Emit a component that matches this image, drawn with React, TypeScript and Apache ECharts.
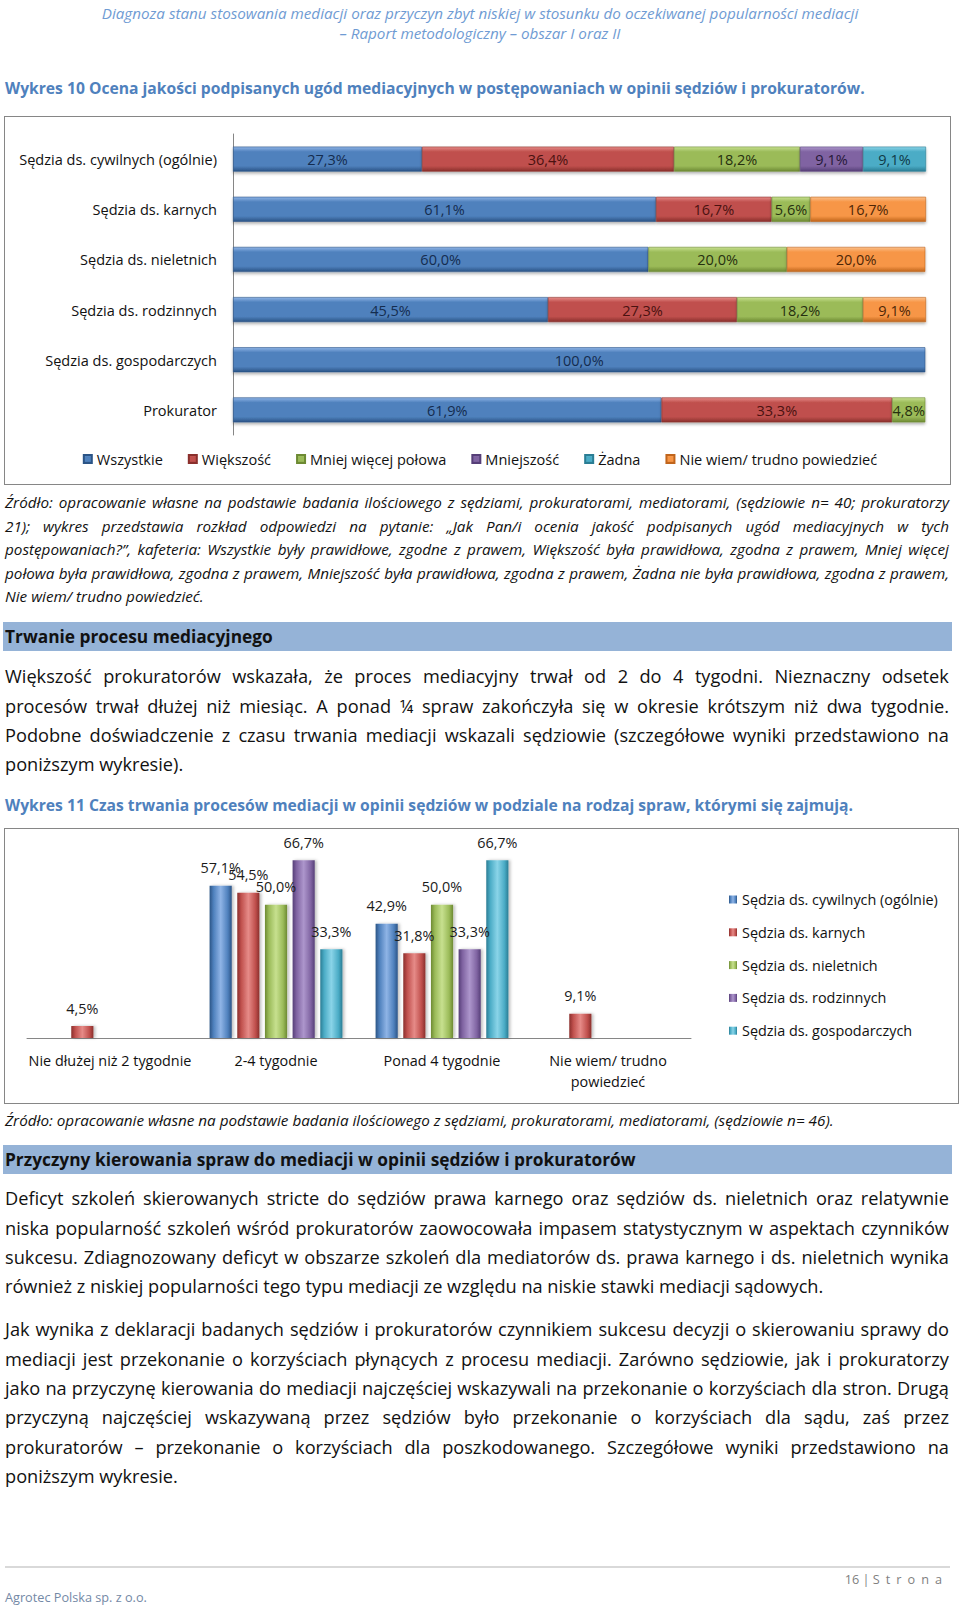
import React, { useEffect, useRef } from "react";
import * as echarts from "echarts";

// ---------- Chart 1 data (Wykres 10) ----------
const cats1 = [
  "Sędzia ds. cywilnych (ogólnie)",
  "Sędzia ds. karnych",
  "Sędzia ds. nieletnich",
  "Sędzia ds. rodzinnych",
  "Sędzia ds. gospodarczych",
  "Prokurator",
];
const answers1 = ["Wszystkie", "Większość", "Mniej więcej połowa", "Mniejszość", "Żadna", "Nie wiem/ trudno powiedzieć"];
const wszystkie = [27.3, 61.1, 60.0, 45.5, 100.0, 61.9];
const wiekszosc = [36.4, 16.7, 0, 27.3, 0, 33.3];
const polowa = [18.2, 5.6, 20.0, 18.2, 0, 4.8];
const mniejszosc = [9.1, 0, 0, 0, 0, 0];
const zadna = [9.1, 0, 0, 0, 0, 0];
const nieWiem = [0, 16.7, 20.0, 9.1, 0, 0];

// ---------- Chart 2 data (Wykres 11) ----------
const cats2 = ["Nie dłużej niż 2 tygodnie", "2-4 tygodnie", "Ponad 4 tygodnie", "Nie wiem/ trudno powiedzieć"];
const judges2 = [
  "Sędzia ds. cywilnych (ogólnie)",
  "Sędzia ds. karnych",
  "Sędzia ds. nieletnich",
  "Sędzia ds. rodzinnych",
  "Sędzia ds. gospodarczych",
];
const cywilne2 = [0, 57.1, 42.9, 0];
const karne2 = [4.5, 54.5, 31.8, 9.1];
const nieletni2 = [0, 50.0, 50.0, 0];
const rodzinne2 = [0, 66.7, 33.3, 0];
const gospodarcze2 = [0, 33.3, 66.7, 0];

// ---------- Text ----------
const headerLines = [
  "Diagnoza stanu stosowania mediacji oraz przyczyn zbyt niskiej w stosunku do oczekiwanej popularności mediacji",
  "– Raport metodologiczny – obszar I oraz II",
];
const title1 = "Wykres 10 Ocena jakości podpisanych ugód mediacyjnych w postępowaniach w opinii sędziów i prokuratorów.";
const source1 = [
  "Źródło: opracowanie własne na podstawie badania ilościowego z sędziami, prokuratorami, mediatorami, (sędziowie n= 40; prokuratorzy",
  "21); wykres przedstawia rozkład odpowiedzi na pytanie: „Jak Pan/i ocenia jakość podpisanych ugód mediacyjnych w tych",
  "postępowaniach?”, kafeteria: Wszystkie były prawidłowe, zgodne z prawem, Większość była prawidłowa, zgodna z prawem, Mniej więcej",
  "połowa była prawidłowa, zgodna z prawem, Mniejszość była prawidłowa, zgodna z prawem, Żadna nie była prawidłowa, zgodna z prawem,",
  "Nie wiem/ trudno powiedzieć.",
];
const section1 = "Trwanie procesu mediacyjnego";
const para1 = [
  "Większość prokuratorów wskazała, że proces mediacyjny trwał od 2 do 4 tygodni. Nieznaczny odsetek",
  "procesów trwał dłużej niż miesiąc. A ponad ¼ spraw zakończyła się w okresie krótszym niż dwa tygodnie.",
  "Podobne doświadczenie z czasu trwania mediacji wskazali sędziowie (szczegółowe wyniki przedstawiono na",
  "poniższym wykresie).",
];
const title2 = "Wykres 11 Czas trwania procesów mediacji w opinii sędziów w podziale na rodzaj spraw, którymi się zajmują.";
const source2 = "Źródło: opracowanie własne na podstawie badania ilościowego z sędziami, prokuratorami, mediatorami, (sędziowie n= 46).";
const section2 = "Przyczyny kierowania spraw do mediacji w opinii sędziów i prokuratorów";
const para2 = [
  "Deficyt szkoleń skierowanych stricte do sędziów prawa karnego oraz sędziów ds. nieletnich oraz relatywnie",
  "niska popularność szkoleń wśród prokuratorów zaowocowała impasem statystycznym w aspektach czynników",
  "sukcesu. Zdiagnozowany deficyt w obszarze szkoleń dla mediatorów ds. prawa karnego i ds. nieletnich wynika",
  "również z niskiej popularności tego typu mediacji ze względu na niskie stawki mediacji sądowych.",
];
const para3 = [
  "Jak wynika z deklaracji badanych sędziów i prokuratorów czynnikiem sukcesu decyzji o skierowaniu sprawy do",
  "mediacji jest przekonanie o korzyściach płynących z procesu mediacji. Zarówno sędziowie, jak i prokuratorzy",
  "jako na przyczynę kierowania do mediacji najczęściej wskazywali na przekonanie o korzyściach dla stron. Drugą",
  "przyczyną najczęściej wskazywaną przez sędziów było przekonanie o korzyściach dla sądu, zaś przez",
  "prokuratorów – przekonanie o korzyściach dla poszkodowanego. Szczegółowe wyniki przedstawiono na",
  "poniższym wykresie.",
];
const footerLeft = "Agrotec Polska sp. z o.o.";
const footerPage = "16";
const footerWord = "Strona";

const FONT = "'Open Sans', Lato, sans-serif";

// font size that makes a text reach a target width (reference widths in px)
let _ctx: CanvasRenderingContext2D | null = null;
function fit(text: string, target: number, weight = 400, style = "normal") {
  if (!_ctx) _ctx = document.createElement("canvas").getContext("2d");
  _ctx!.font = `${style} ${weight} 100px ${FONT}`;
  const w = _ctx!.measureText(text).width || 1;
  return (100 * target) / w;
}

const palette = [
  { base: "#4f81bd", light: "#8fb4e6", dark: "#2b5486", label: "#142c4f" },
  { base: "#c0504d", light: "#e68b88", dark: "#8a2f2c", label: "#4a1210" },
  { base: "#9bbb59", light: "#c7e08f", dark: "#6d8a33", label: "#26300f" },
  { base: "#8064a2", light: "#ad96cc", dark: "#563f78", label: "#261838" },
  { base: "#4bacc6", light: "#8ad4e8", dark: "#2a7d94", label: "#0f3a46" },
  { base: "#f79646", light: "#fbc08c", dark: "#c0651c", label: "#4e2606" },
];

const vGrad = (c: any) =>
  new echarts.graphic.LinearGradient(0, 0, 0, 1, [
    { offset: 0, color: c.light },
    { offset: 0.2, color: c.base },
    { offset: 0.78, color: c.base },
    { offset: 1, color: c.dark },
  ]);
const hGrad = (c: any) =>
  new echarts.graphic.LinearGradient(0, 0, 1, 0, [
    { offset: 0, color: c.dark },
    { offset: 0.18, color: c.base },
    { offset: 0.5, color: c.light },
    { offset: 0.82, color: c.base },
    { offset: 1, color: c.dark },
  ]);

const fmt = (p: any) => (p.value ? p.value.toFixed(1).replace(".", ",") + "%" : "");

function Chart1() {
  const ref = useRef<HTMLDivElement>(null);
  useEffect(() => {
    const fs = fit(cats1[0], 198);
    const chart = echarts.init(ref.current!, null, { renderer: "svg" });
    const seriesData = [wszystkie, wiekszosc, polowa, mniejszosc, zadna, nieWiem];
    chart.setOption({
      animation: false,
      textStyle: { fontFamily: FONT },
      grid: { left: 233, width: 693, top: 24, height: 301 },
      xAxis: { type: "value", min: 0, max: "dataMax", show: false },
      yAxis: {
        type: "category",
        data: cats1,
        inverse: true,
        axisLine: { lineStyle: { color: "#868686", width: 1 } },
        axisTick: { show: false },
        axisLabel: { color: "#111", fontSize: fs, margin: 16, fontFamily: FONT },
      },
      legend: {
        data: answers1,
        top: 334,
        left: "center",
        itemWidth: 8,
        itemHeight: 8,
        itemGap: 25,
        icon: "rect",
        textStyle: { fontSize: fs, color: "#111", fontFamily: FONT, lineHeight: 20 },
      },
      series: seriesData.map((d, i) => ({
        name: answers1[i],
        type: "bar",
        stack: "all",
        barWidth: 25,
        data: d,
        itemStyle: {
          color: vGrad(palette[i]),
          borderColor: palette[i].dark,
          borderWidth: 0.6,
          shadowColor: "rgba(0,0,0,0.3)",
          shadowBlur: 3,
          shadowOffsetY: 2,
        },
        label: {
          show: true,
          position: "inside",
          formatter: fmt,
          fontSize: fs,
          color: palette[i].label,
          fontFamily: FONT,
        },
      })),
    });
    return () => chart.dispose();
  }, []);
  return <div ref={ref} style={{ position: "absolute", left: 0, top: 110, width: 960, height: 380 }} />;
}

function Chart2() {
  const ref = useRef<HTMLDivElement>(null);
  useEffect(() => {
    const fs = fit(judges2[0], 196);
    const chart = echarts.init(ref.current!, null, { renderer: "svg" });
    const seriesData = [cywilne2, karne2, nieletni2, rodzinne2, gospodarcze2];
    chart.setOption({
      animation: false,
      textStyle: { fontFamily: FONT },
      grid: { left: 27, width: 664, top: 31.5, height: 186.5 },
      xAxis: {
        type: "category",
        data: cats2,
        axisLine: { lineStyle: { color: "#868686", width: 1 } },
        axisTick: { show: false },
        axisLabel: {
          color: "#111",
          fontSize: fs,
          margin: 12,
          lineHeight: 21,
          interval: 0,
          fontFamily: FONT,
          formatter: (v: string) => v.replace("trudno ", "trudno\n"),
        },
      },
      yAxis: { type: "value", min: 0, max: 70, show: false },
      legend: {
        data: judges2,
        orient: "vertical",
        left: 724,
        top: 64.5,
        itemWidth: 8,
        itemHeight: 8,
        itemGap: 12.8,
        icon: "rect",
        textStyle: { fontSize: fs, color: "#111", fontFamily: FONT, lineHeight: 20 },
      },
      series: seriesData.map((d, i) => ({
        name: judges2[i],
        type: "bar",
        data: d,
        barGap: "25%",
        barCategoryGap: "20%",
        itemStyle: {
          color: hGrad(palette[i]),
          shadowColor: "rgba(0,0,0,0.25)",
          shadowBlur: 3,
          shadowOffsetX: 2,
        },
        label: {
          show: true,
          position: "top",
          distance: 11,
          formatter: fmt,
          fontSize: fs,
          color: "#1a1a1a",
          fontFamily: FONT,
        },
      })),
    });
    return () => chart.dispose();
  }, []);
  return <div ref={ref} style={{ position: "absolute", left: 0, top: 820, width: 960, height: 290 }} />;
}

function Line(props: {
  text: string;
  y: number;
  size: number;
  lh: number;
  justify?: boolean;
  italic?: boolean;
  bold?: boolean;
  color?: string;
  left?: number;
  width?: number;
}) {
  const { text, y, size, lh, justify, italic, bold, color, left = 5, width = 944 } = props;
  const words = text.split(" ");
  return (
    <div
      style={{
        position: "absolute",
        left,
        top: y - lh / 2,
        width,
        height: lh,
        lineHeight: lh + "px",
        fontSize: size,
        fontStyle: italic ? "italic" : "normal",
        fontWeight: bold ? 700 : 400,
        color: color || "#111",
        display: "flex",
        justifyContent: justify ? "space-between" : "flex-start",
        whiteSpace: "pre",
      }}
    >
      {justify ? words.map((w, i) => <span key={i}>{w}</span>) : <span>{text}</span>}
    </div>
  );
}

function Para({ lines, y0, step, size, italic }: { lines: string[]; y0: number; step: number; size: number; italic?: boolean }) {
  return (
    <>
      {lines.map((t, i) => (
        <Line key={i} text={t} y={y0 + i * step} size={size} lh={step} italic={italic} justify={i < lines.length - 1} />
      ))}
    </>
  );
}

function Section({ text, top, size }: { text: string; top: number; size: number }) {
  return (
    <div
      style={{
        position: "absolute",
        left: 3,
        top,
        width: 949,
        height: 29,
        background: "#95b3d7",
        fontWeight: 700,
        fontSize: size,
        lineHeight: "29px",
        paddingLeft: 2,
        boxSizing: "border-box",
        color: "#111",
        whiteSpace: "pre",
      }}
    >
      {text}
    </div>
  );
}

export default function App() {
  const headSize = fit(headerLines[0], 757, 400, "italic");
  const titleSize = fit(title1, 860, 700);
  const srcSize = fit(source2, 829, 400, "italic");
  const secSize = fit(section2, 631, 700);
  const paraSize = fit(para2[3], 819);
  const footSize = fit(footerLeft, 142);
  return (
    <div
      style={{
        position: "absolute",
        left: 0,
        top: 0,
        width: 960,
        height: 1608,
        background: "#fff",
        fontFamily: FONT,
        overflow: "hidden",
      }}
    >
      {/* header */}
      {headerLines.map((t, i) => (
        <div
          key={i}
          style={{
            position: "absolute",
            left: 0,
            width: 960,
            top: [12.5, 33][i] - 10,
            height: 20,
            lineHeight: "20px",
            textAlign: "center",
            fontStyle: "italic",
            fontSize: headSize,
            color: "#6f9bd3",
            whiteSpace: "pre",
          }}
        >
          {t}
        </div>
      ))}

      <Line text={title1} y={88} size={titleSize} lh={22} bold color="#4f81bd" />

      {/* chart 1 box */}
      <div style={{ position: "absolute", left: 4, top: 116, width: 947, height: 369, border: "1px solid #868686", boxSizing: "border-box" }} />
      <Chart1 />

      <Para lines={source1} y0={503} step={23.5} size={srcSize} italic />

      <Section text={section1} top={622} size={secSize} />
      <Para lines={para1} y0={677} step={29.2} size={paraSize} />

      <Line text={title2} y={805} size={titleSize} lh={22} bold color="#4f81bd" />

      {/* chart 2 box */}
      <div style={{ position: "absolute", left: 4, top: 828, width: 955, height: 276, border: "1px solid #868686", boxSizing: "border-box" }} />
      <Chart2 />

      <Line text={source2} y={1120} size={srcSize} lh={22} italic />

      <Section text={section2} top={1145} size={secSize} />
      <Para lines={para2} y0={1199} step={29.3} size={paraSize} />
      <Para lines={para3} y0={1330} step={29.3} size={paraSize} />

      {/* footer */}
      <div style={{ position: "absolute", left: 5, top: 1566, width: 945, height: 2, background: "#d9d9d9" }} />
      <div
        style={{
          position: "absolute",
          right: 12,
          top: 1570,
          height: 18,
          lineHeight: "18px",
          fontSize: footSize,
          color: "#7f7f7f",
          whiteSpace: "pre",
        }}
      >
        {footerPage} | <span style={{ letterSpacing: 6 }}>{footerWord}</span>
      </div>
      <div
        style={{
          position: "absolute",
          left: 5,
          top: 1588,
          height: 18,
          lineHeight: "18px",
          fontSize: footSize,
          color: "#7489a6",
          whiteSpace: "pre",
        }}
      >
        {footerLeft}
      </div>
    </div>
  );
}
